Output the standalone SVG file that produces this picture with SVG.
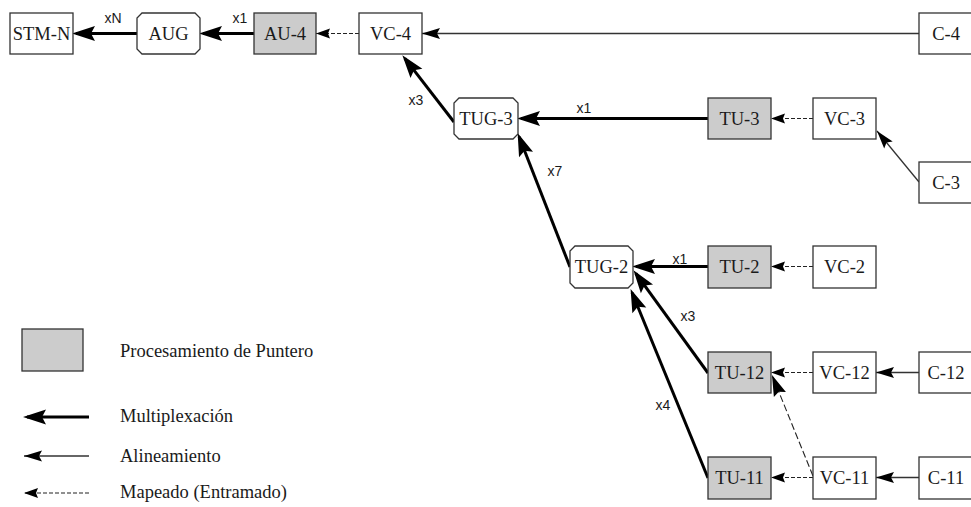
<svg xmlns="http://www.w3.org/2000/svg" width="971" height="507" viewBox="0 0 971 507">
  <style>
    .box { fill: #ffffff; stroke: #333333; stroke-width: 1.3; }
    .ptr { fill: #cccccc; stroke: #333333; stroke-width: 1.3; }
    .lbl { font-family: "Liberation Serif", "Times New Roman", serif; font-size: 18.5px; fill: #1a1a1a; text-anchor: middle; }
    .mult { font-family: "Liberation Sans", Arial, sans-serif; font-size: 14px; fill: #1a1a1a; text-anchor: middle; }
    .leg { font-family: "Liberation Serif", "Times New Roman", serif; font-size: 18.5px; fill: #1a1a1a; }
    .thick { stroke: #000000; stroke-width: 3; fill: none; marker-end: url(#headThick); }
    .thin { stroke: #333333; stroke-width: 1.3; fill: none; marker-end: url(#headThin); }
    .map { stroke: #222222; stroke-width: 1.2; stroke-dasharray: 4 2; fill: none; marker-end: url(#headSmall); }
    .mapLong { stroke: #222222; stroke-width: 1.1; stroke-dasharray: 7 3; fill: none; marker-end: url(#headLong); }
  </style>
  <defs>
    <marker id="headThick" markerUnits="userSpaceOnUse" orient="auto" overflow="visible" refX="19" refY="0" markerWidth="1" markerHeight="1">
      <path d="M23,0 L0,-7.5 L4,0 L0,7.5 Z" fill="#000"/>
    </marker>
    <marker id="headThin" markerUnits="userSpaceOnUse" orient="auto" overflow="visible" refX="18" refY="0" markerWidth="1" markerHeight="1">
      <path d="M18,0 L0,-5.5 L3,0 L0,5.5 Z" fill="#000"/>
    </marker>
    <marker id="headSmall" markerUnits="userSpaceOnUse" orient="auto" overflow="visible" refX="14" refY="0" markerWidth="1" markerHeight="1">
      <path d="M14,0 L0,-5 L2,0 L0,5 Z" fill="#000"/>
    </marker>
    <marker id="headLong" markerUnits="userSpaceOnUse" orient="auto" overflow="visible" refX="21" refY="0" markerWidth="1" markerHeight="1">
      <path d="M21,0 L0,-6.5 L3,0 L0,6.5 Z" fill="#000"/>
    </marker>
  </defs>

  <!-- connectors -->
  <g id="connectors">
    <line class="thick" x1="137" y1="33.5" x2="76" y2="33.5"/>
    <line class="thick" x1="254" y1="33.5" x2="203" y2="33.5"/>
    <line class="map" x1="359" y1="33.5" x2="316" y2="33.5"/>
    <line class="thin" x1="919" y1="33.5" x2="422" y2="33.5"/>
    <line class="thick" x1="454" y1="122" x2="404.8" y2="58.4"/>
    <line class="thick" x1="708" y1="118.5" x2="521" y2="118.5"/>
    <line class="map" x1="813" y1="118.5" x2="771" y2="118.5"/>
    <line class="thin" x1="919" y1="182" x2="877" y2="131"/>
    <line class="thick" x1="570" y1="267" x2="519.1" y2="136.8"/>
    <line class="thick" x1="708" y1="266.5" x2="636" y2="266.5"/>
    <line class="map" x1="813" y1="266.5" x2="771" y2="266.5"/>
    <line class="thick" x1="708" y1="373" x2="635.8" y2="273.4"/>
    <line class="thick" x1="708" y1="478" x2="632.1" y2="292.8"/>
    <line class="map" x1="813" y1="372.5" x2="771" y2="372.5"/>
    <line class="thin" x1="919" y1="372.5" x2="876" y2="372.5"/>
    <line class="mapLong" x1="813" y1="476" x2="772" y2="375"/>
    <line class="map" x1="813" y1="477.5" x2="771" y2="477.5"/>
    <line class="thin" x1="919" y1="477.5" x2="876" y2="477.5"/>

    <!-- multiplexing factors -->
    <text class="mult" x="113" y="23">xN</text>
    <text class="mult" x="240" y="23">x1</text>
    <text class="mult" x="416" y="105">x3</text>
    <text class="mult" x="584" y="113">x1</text>
    <text class="mult" x="555" y="176">x7</text>
    <text class="mult" x="680" y="264">x1</text>
    <text class="mult" x="688" y="321">x3</text>
    <text class="mult" x="663" y="410">x4</text>
  </g>

  <!-- nodes -->
  <g id="stm-n"><rect class="box" x="10" y="13" width="63" height="41"/><text class="lbl" x="41.5" y="40">STM-N</text></g>
  <g id="aug"><path class="box" d="M142,13 H195 L200,18 V49 L195,54 H142 L137,49 V18 Z"/><text class="lbl" x="168.5" y="40">AUG</text></g>
  <g id="au-4"><rect class="ptr" x="254" y="13" width="62" height="41"/><text class="lbl" x="285" y="40">AU-4</text></g>
  <g id="vc-4"><rect class="box" x="359" y="13" width="63" height="41"/><text class="lbl" x="390.5" y="40">VC-4</text></g>
  <g id="c-4"><rect class="box" x="919" y="13" width="63" height="41"/><text class="lbl" x="946" y="40">C-4</text></g>

  <g id="tug-3"><path class="box" d="M459,98 H513 L518,103 V134 L513,139 H459 L454,134 V103 Z"/><text class="lbl" x="486" y="125">TUG-3</text></g>
  <g id="tu-3"><rect class="ptr" x="708" y="98" width="63" height="41"/><text class="lbl" x="739.5" y="125">TU-3</text></g>
  <g id="vc-3"><rect class="box" x="813" y="98" width="63" height="41"/><text class="lbl" x="844.5" y="125">VC-3</text></g>
  <g id="c-3"><rect class="box" x="919" y="162" width="63" height="41"/><text class="lbl" x="946" y="189">C-3</text></g>

  <g id="tug-2"><path class="box" d="M575,246 H628 L633,251 V283 L628,288 H575 L570,283 V251 Z"/><text class="lbl" x="601.5" y="273">TUG-2</text></g>
  <g id="tu-2"><rect class="ptr" x="708" y="246" width="63" height="42"/><text class="lbl" x="739.5" y="273">TU-2</text></g>
  <g id="vc-2"><rect class="box" x="813" y="246" width="63" height="42"/><text class="lbl" x="844.5" y="273">VC-2</text></g>

  <g id="tu-12"><rect class="ptr" x="708" y="352" width="63" height="41"/><text class="lbl" x="739.5" y="379">TU-12</text></g>
  <g id="vc-12"><rect class="box" x="813" y="352" width="63" height="41"/><text class="lbl" x="844.5" y="379">VC-12</text></g>
  <g id="c-12"><rect class="box" x="919" y="352" width="63" height="41"/><text class="lbl" x="946" y="379">C-12</text></g>

  <g id="tu-11"><rect class="ptr" x="708" y="457" width="63" height="42"/><text class="lbl" x="739.5" y="484">TU-11</text></g>
  <g id="vc-11"><rect class="box" x="813" y="457" width="63" height="42"/><text class="lbl" x="844.5" y="484">VC-11</text></g>
  <g id="c-11"><rect class="box" x="919" y="457" width="63" height="42"/><text class="lbl" x="946" y="484">C-11</text></g>

  <!-- legend -->
  <g id="legend">
    <rect class="ptr" x="22" y="329" width="61" height="42"/>
    <text class="leg" x="120" y="357">Procesamiento de Puntero</text>
    <line class="thick" x1="89" y1="417" x2="27" y2="417"/>
    <text class="leg" x="120" y="422">Multiplexación</text>
    <line class="thin" x1="89" y1="456" x2="24" y2="456"/>
    <text class="leg" x="120" y="462">Alineamiento</text>
    <line class="map" x1="89" y1="493" x2="24" y2="493"/>
    <text class="leg" x="120" y="498">Mapeado (Entramado)</text>
  </g>
</svg>
